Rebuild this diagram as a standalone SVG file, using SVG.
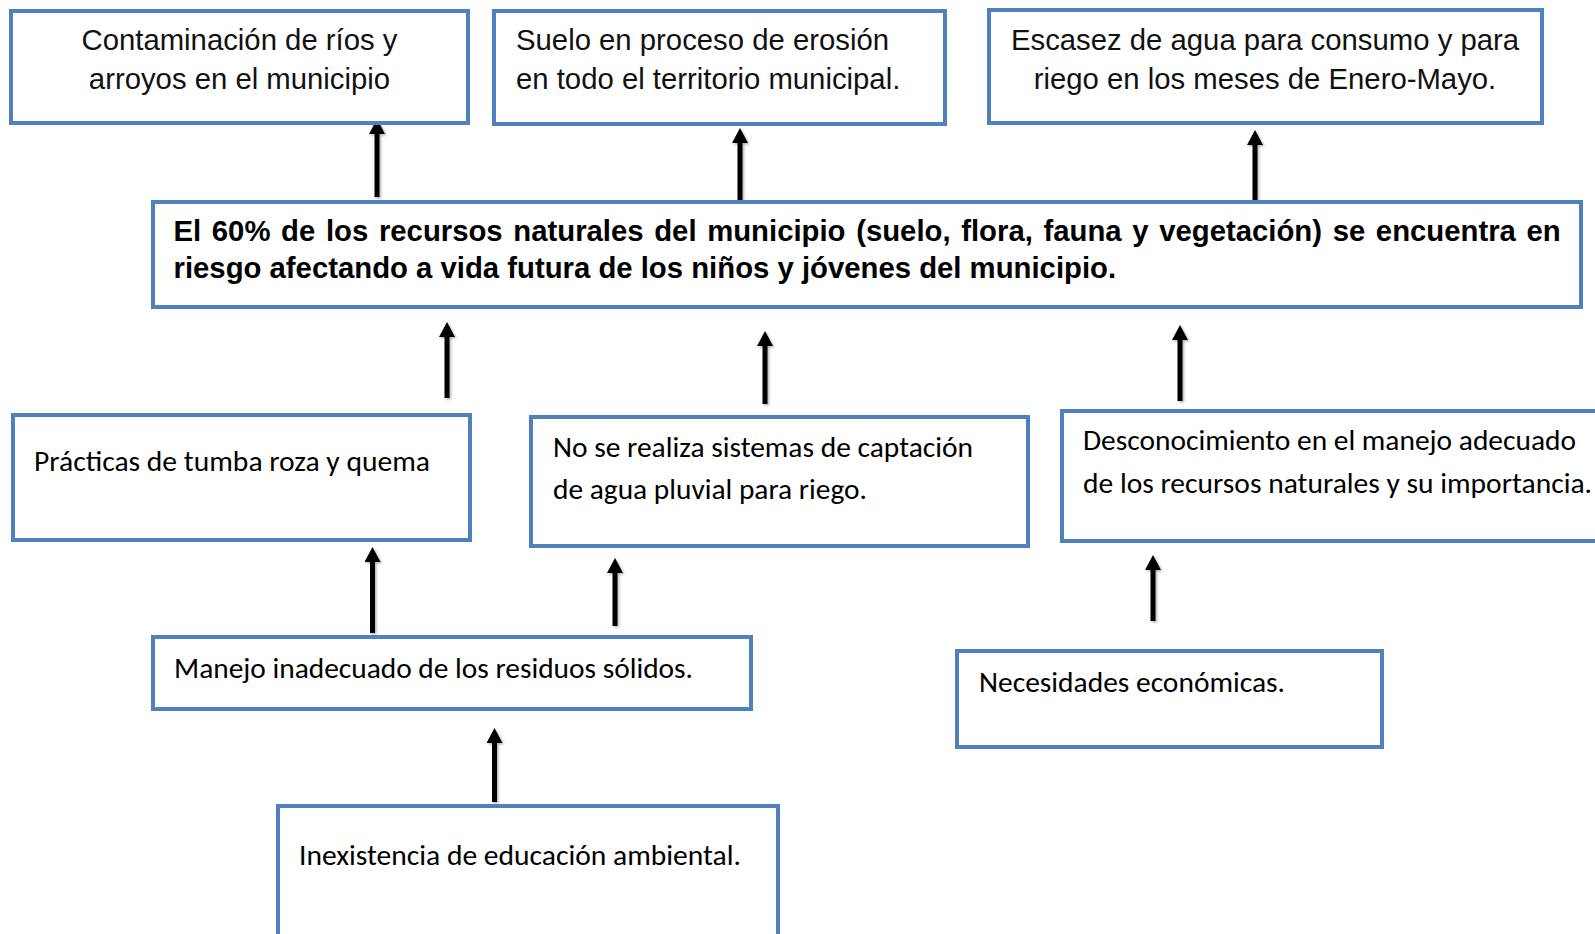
<svg xmlns="http://www.w3.org/2000/svg" width="1595" height="934" viewBox="0 0 1595 934">
  <style>
    .box { fill: #ffffff; stroke: #4F81BD; stroke-width: 4; }
    .arial { font-family: "Liberation Sans", Arial, sans-serif; font-size: 29.3px; fill: #111111; }
    .bold { font-family: "Liberation Sans", Arial, sans-serif; font-size: 29.3px; font-weight: bold; fill: #000000; }
    .cal { font-family: Carlito, Calibri, Lato, sans-serif; font-size: 29px; fill: #000000; }
    .arrow { stroke: #000000; stroke-width: 5; fill: none; marker-end: url(#head); filter: url(#shadow); }
  </style>
  <defs>
    <marker id="head" viewBox="0 0 15 16" refX="3" refY="8" markerWidth="15" markerHeight="16" markerUnits="userSpaceOnUse" orient="auto">
      <path d="M0,0 L15,8 L0,16 Z" fill="#000000"/>
    </marker>
    <filter id="shadow" filterUnits="userSpaceOnUse" x="0" y="0" width="1595" height="934">
      <feDropShadow dx="1.5" dy="1.5" stdDeviation="1.2" flood-color="#000000" flood-opacity="0.3"/>
    </filter>
  </defs>
  <rect width="1595" height="934" fill="#ffffff"/>

  <g id="connectors">
    <path class="arrow" d="M377,197 L377,131"/>
    <path class="arrow" d="M740,203 L740,140"/>
    <path class="arrow" d="M1255,206 L1255,142"/>
    <path class="arrow" d="M447,398 L447,334"/>
    <path class="arrow" d="M765,404 L765,343"/>
    <path class="arrow" d="M1180,401 L1180,337"/>
    <path class="arrow" d="M372.5,633 L372.5,559"/>
    <path class="arrow" d="M615,626 L615,570"/>
    <path class="arrow" d="M1153,621 L1153,567"/>
    <path class="arrow" d="M494.5,802 L494.5,740"/>
  </g>

  <g id="node-contaminacion">
    <rect class="box" x="11" y="11" width="457" height="112"/>
    <text class="arial" text-anchor="middle"><tspan x="239.5" y="50">Contaminación de ríos y</tspan><tspan x="239.5" y="88.5">arroyos en el municipio</tspan></text>
  </g>

  <g id="node-suelo">
    <rect class="box" x="494" y="11" width="451" height="113"/>
    <text class="arial"><tspan x="516" y="50">Suelo en proceso de erosión</tspan><tspan x="516" y="88.5">en todo el territorio municipal.</tspan></text>
  </g>

  <g id="node-escasez">
    <rect class="box" x="989" y="10" width="553" height="113"/>
    <text class="arial" text-anchor="middle"><tspan x="1265" y="50">Escasez de agua para consumo y para</tspan><tspan x="1265" y="88.5">riego en los meses de Enero-Mayo.</tspan></text>
  </g>

  <g id="node-problema">
    <rect class="box" x="153" y="202" width="1428" height="105"/>
    <text class="bold"><tspan x="173.5" y="240.5" word-spacing="2.5">El 60% de los recursos naturales del municipio (suelo, flora, fauna y vegetación) se encuentra en</tspan><tspan x="173.5" y="278">riesgo afectando a vida futura de los niños y jóvenes del municipio.</tspan></text>
  </g>

  <g id="node-practicas">
    <rect class="box" x="13" y="415" width="457" height="125"/>
    <text class="cal" x="34" y="471" textLength="396" lengthAdjust="spacingAndGlyphs">Prácticas de tumba roza y quema</text>
  </g>

  <g id="node-captacion">
    <rect class="box" x="531" y="417" width="497" height="129"/>
    <text class="cal" x="553" y="456.5" textLength="420" lengthAdjust="spacingAndGlyphs">No se realiza sistemas de captación</text>
    <text class="cal" x="553" y="499" textLength="314" lengthAdjust="spacingAndGlyphs">de agua pluvial para riego.</text>
  </g>

  <g id="node-desconocimiento">
    <rect class="box" x="1062" y="411" width="560" height="130"/>
    <text class="cal" x="1083" y="450" textLength="493" lengthAdjust="spacingAndGlyphs">Desconocimiento en el manejo adecuado</text>
    <text class="cal" x="1083" y="492.5" textLength="509" lengthAdjust="spacingAndGlyphs">de los recursos naturales y su importancia.</text>
  </g>

  <g id="node-manejo">
    <rect class="box" x="153" y="637" width="598" height="72"/>
    <text class="cal" x="174" y="677.5" textLength="519" lengthAdjust="spacingAndGlyphs">Manejo inadecuado de los residuos sólidos.</text>
  </g>

  <g id="node-necesidades">
    <rect class="box" x="957" y="651" width="425" height="96"/>
    <text class="cal" x="979" y="691.5" textLength="306" lengthAdjust="spacingAndGlyphs">Necesidades económicas.</text>
  </g>

  <g id="node-inexistencia">
    <rect class="box" x="278" y="806" width="500" height="160"/>
    <text class="cal" x="299" y="865" textLength="442" lengthAdjust="spacingAndGlyphs">Inexistencia de educación ambiental.</text>
  </g>
</svg>
